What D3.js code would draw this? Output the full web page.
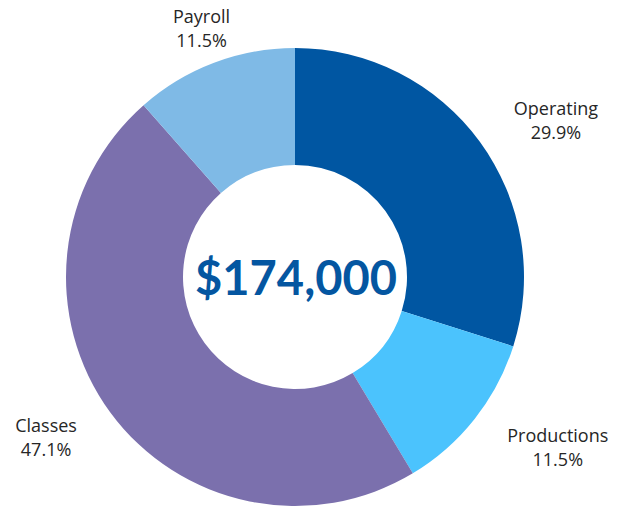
<!DOCTYPE html>
<html>
<head>
<meta charset="utf-8">
<script src="https://cdn.jsdelivr.net/npm/d3@7"></script>
<style>
  body { margin: 0; background: #fff; }
  #chart { width: 628px; height: 508px; }
  .slice-label { font-family: "Open Sans", sans-serif; font-size: 18px; fill: #262626; }
  .total-label { font-family: Lato, sans-serif; font-weight: 700; font-size: 47px; fill: #0456a1; }
</style>
</head>
<body>
<div id="chart"></div>
<script>
// data
const categories = ["Operating", "Productions", "Classes", "Payroll"];
const shares = [29.9, 11.5, 47.1, 11.5];
const pctLabels = ["29.9%", "11.5%", "47.1%", "11.5%"];
const totalLabel = "$174,000";

const colors = ["#0056a2", "#4bc3fd", "#7b70ad", "#7fbae6"];

// layout
const width = 628, height = 508;
const cx = 295, cy = 277;
const outerR = 229, innerR = 112;
const labelR = 270;
// small nudges so labels sit like the original
const labelNudge = {
    Operating: [43, -3],
    Productions: [51, -2],
    Classes: [-31, -4],
    Payroll: [2, -1]
};

const svg = d3.select("#chart").append("svg")
    .attr("width", width)
    .attr("height", height);

const g = svg.append("g")
    .attr("transform", `translate(${cx}, ${cy})`);

const slices = categories.map((c, i) => ({name: c, value: shares[i], pct: pctLabels[i], color: colors[i]}));

const pie = d3.pie()
    .sort(null)
    .value(d => d.value);

const arc = d3.arc()
    .innerRadius(innerR)
    .outerRadius(outerR);

const arcs = pie(slices);

g.selectAll("path.slice")
    .data(arcs)
    .enter()
    .append("path")
    .attr("class", "slice")
    .attr("d", arc)
    .attr("fill", d => d.data.color);

// labels
const labels = g.selectAll("text.slice-label")
    .data(arcs)
    .enter()
    .append("text")
    .attr("class", "slice-label")
    .attr("text-anchor", "middle")
    .attr("transform", d => {
        let a = (d.startAngle + d.endAngle) / 2;
        let n = labelNudge[d.data.name];
        let x = Math.sin(a) * labelR + n[0];
        let y = -Math.cos(a) * labelR + n[1];
        return `translate(${x}, ${y})`;
    });

labels.append("tspan")
    .attr("x", 0)
    .attr("y", 0)
    .text(d => d.data.name);

labels.append("tspan")
    .attr("x", 0)
    .attr("y", 24)
    .text(d => d.data.pct);

// total in the middle
g.append("text")
    .attr("class", "total-label")
    .attr("text-anchor", "middle")
    .attr("x", 1)
    .attr("y", 18)
    .text(totalLabel);
</script>
</body>
</html>
